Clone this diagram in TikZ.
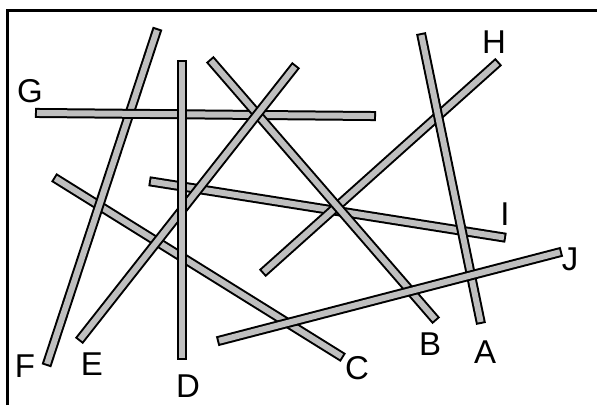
\documentclass[tikz,border=0pt]{standalone}
\usepackage{fontspec}
\setmainfont{Liberation Sans}
\begin{document}
\begin{tikzpicture}[x=1pt,y=-1pt,
  stickout/.style={line width=10pt,line cap=rect,draw=black},
  stickin/.style={line width=6pt,line cap=rect,draw=black!25},
  lbl/.style={font=\fontsize{33}{33}\selectfont,inner sep=0pt,anchor=base},
  frame/.style={line width=3pt,draw=black}]
\useasboundingbox (0,0) rectangle (597,405);
% frame (top and left edges only)
\coordinate (fa) at (7,405);
\coordinate (fb) at (7,10);
\coordinate (fc) at (597,10);
\draw[frame] (fa) -- (fb) -- (fc);
% stick end points
\coordinate (G1) at (40,113);  \coordinate (G2) at (371,116);
\coordinate (F1) at (156,33);  \coordinate (F2) at (48,361);
\coordinate (D1) at (182,65);  \coordinate (D2) at (182,355);
\coordinate (E1) at (293,69);  \coordinate (E2) at (82,337);
\coordinate (C1) at (58,180);  \coordinate (C2) at (339,355);
\coordinate (B1) at (213,63);  \coordinate (B2) at (433,317);
\coordinate (H1) at (495,65);  \coordinate (H2) at (266,270);
\coordinate (A1) at (422,38);  \coordinate (A2) at (480,319);
\coordinate (I1) at (154,182); \coordinate (I2) at (501,237);
\coordinate (J1) at (557,253); \coordinate (J2) at (222,340);
% sticks, bottom to top
\foreach \s in {C,F,G,I,H,B,E,A,J,D}{
  \draw[stickout] (\s1) -- (\s2);
  \draw[stickin] (\s1) -- (\s2);
}
% labels
\node[lbl] (lG) at (30,102) {G};
\node[lbl] (lH) at (494,53) {H};
\node[lbl] (lI) at (505,225) {I};
\node[lbl] (lJ) at (570,270) {J};
\node[lbl] (lA) at (485,363) {A};
\node[lbl] (lB) at (430,355) {B};
\node[lbl] (lC) at (357,379) {C};
\node[lbl] (lD) at (188,397) {D};
\node[lbl] (lE) at (92,375) {E};
\node[lbl] (lF) at (25,377) {F};
\end{tikzpicture}
\end{document}
